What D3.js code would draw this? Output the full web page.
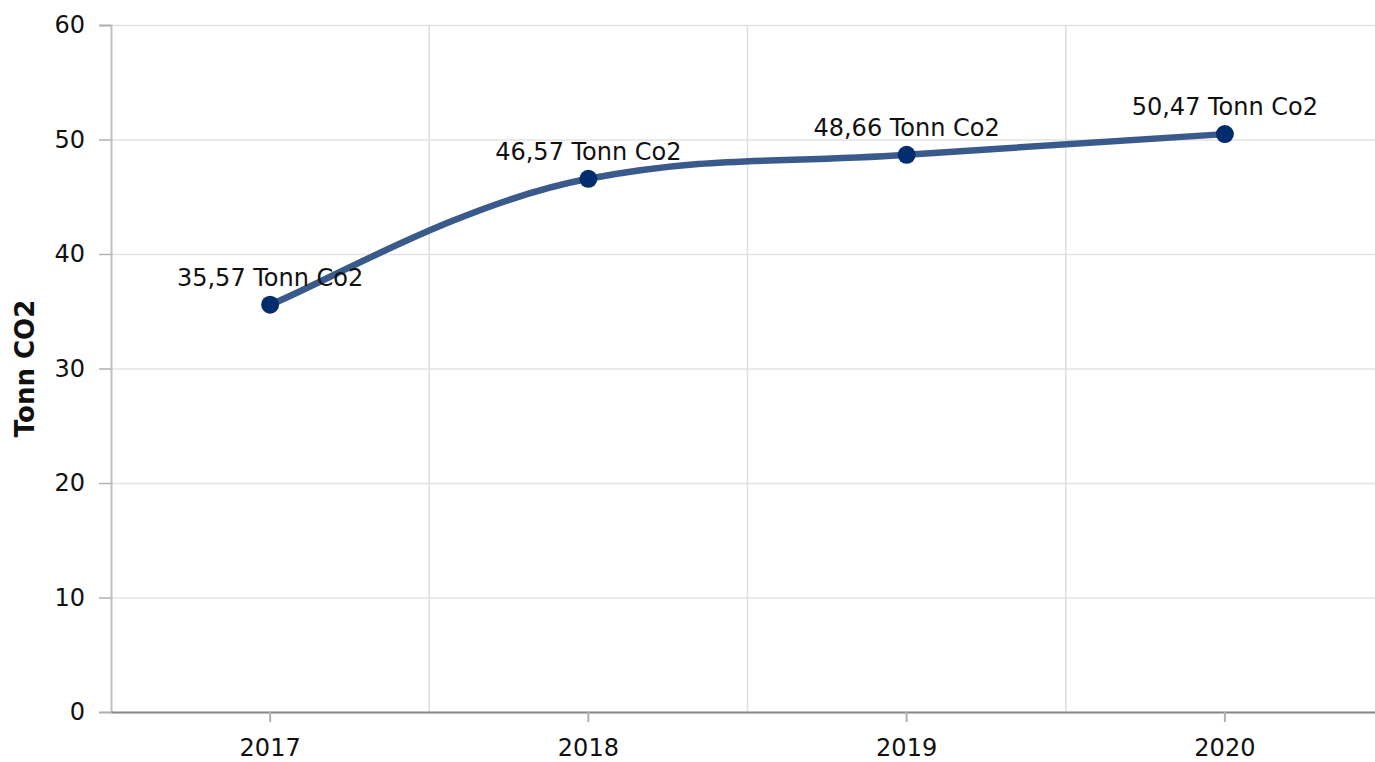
<!DOCTYPE html>
<html>
<head>
<meta charset="utf-8">
<script src="https://cdn.jsdelivr.net/npm/d3@7"></script>
<style>
  body { margin: 0; background: #fff; }
  text { font-family: "DejaVu Sans", Verdana, sans-serif; }
</style>
</head>
<body>
<div id="chart"></div>
<script>
const years = ["2017", "2018", "2019", "2020"];
const values = [35.57, 46.57, 48.66, 50.47];
const yTicks = [0, 10, 20, 30, 40, 50, 60];
const unit = "Tonn Co2";

const width = 1375, height = 762;
const margin = { top: 25, right: -9, bottom: 50, left: 111 };
const fontSize = 24;

const svg = d3.select("#chart").append("svg")
  .attr("width", width)
  .attr("height", height);

const x = d3.scaleBand()
  .domain(years)
  .range([margin.left, width - margin.right]);

const y = d3.scaleLinear()
  .domain([0, 60])
  .range([height - margin.bottom, margin.top]);

// smooth spline: inner points get weighted control points (smoothing 1.5),
// end points aim along the first / last segment
function SplineCurve(context) { this._context = context; }
SplineCurve.prototype = {
  areaStart() {}, areaEnd() {},
  lineStart() { this._pts = []; },
  point(px, py) { this._pts.push([+px, +py]); },
  lineEnd() {
    const p = this._pts, ctx = this._context, n = p.length;
    const right = [];
    const left = [];
    for (let i = 0; i < n; i++) {
      if (i === 0 || i === n - 1) continue;
      const [lx, ly] = p[i - 1], [cx, cy] = p[i], [nx, ny] = p[i + 1];
      let lcx = (1.5 * cx + lx) / 2.5, lcy = (1.5 * cy + ly) / 2.5;
      let rcx = (1.5 * cx + nx) / 2.5, rcy = (1.5 * cy + ny) / 2.5;
      let corr = 0;
      if (rcx !== lcx) corr = ((rcy - lcy) * (rcx - cx)) / (rcx - lcx) + cy - rcy;
      lcy += corr; rcy += corr;
      if (lcy > ly && lcy > cy) { lcy = Math.max(ly, cy); rcy = 2 * cy - lcy; }
      else if (lcy < ly && lcy < cy) { lcy = Math.min(ly, cy); rcy = 2 * cy - lcy; }
      if (rcy > ny && rcy > cy) { rcy = Math.max(ny, cy); lcy = 2 * cy - rcy; }
      else if (rcy < ny && rcy < cy) { rcy = Math.min(ny, cy); lcy = 2 * cy - rcy; }
      left[i] = [lcx, lcy]; right[i] = [rcx, rcy];
    }
    if (n > 1) {
      right[0] = [p[0][0] + (p[1][0] - p[0][0]) / 6, p[0][1] + (p[1][1] - p[0][1]) / 6];
      left[n - 1] = [p[n - 1][0] - (p[n - 1][0] - p[n - 2][0]) / 6, p[n - 1][1] - (p[n - 1][1] - p[n - 2][1]) / 6];
    }
    ctx.moveTo(p[0][0], p[0][1]);
    for (let i = 1; i < n; i++) {
      ctx.bezierCurveTo(right[i - 1][0], right[i - 1][1], left[i][0], left[i][1], p[i][0], p[i][1]);
    }
  }
};
const curveSpline = ctx => new SplineCurve(ctx);

// horizontal grid
svg.append("g")
  .selectAll("line")
  .data(yTicks)
  .enter()
  .append("line")
  .attr("x1", margin.left)
  .attr("x2", width)
  .attr("y1", d => y(d) + 0.5)
  .attr("y2", d => y(d) + 0.5)
  .attr("stroke", "#e3e3e3")
  .attr("stroke-width", 1.5);

// vertical grid at band boundaries
svg.append("g")
  .selectAll("line")
  .data(years.slice(1))
  .enter()
  .append("line")
  .attr("x1", d => x(d))
  .attr("x2", d => x(d))
  .attr("y1", margin.top)
  .attr("y2", y(0))
  .attr("stroke", "#dedede")
  .attr("stroke-width", 1.5);

// y axis
const yAxis = svg.append("g")
  .attr("transform", `translate(${margin.left},0)`)
  .call(d3.axisLeft(y).tickValues(yTicks).tickSize(12).tickPadding(14));
yAxis.select(".domain").attr("stroke", "#c0c0c0").attr("stroke-width", 2);
yAxis.selectAll(".tick line").attr("stroke", "#b0b0b0").attr("stroke-width", 1.5);
yAxis.selectAll(".tick text")
  .attr("font-size", fontSize)
  .attr("fill", "#111")
  .style("font-family", "'DejaVu Sans', Verdana, sans-serif");

// x axis
const xAxis = svg.append("g")
  .attr("transform", `translate(0,${y(0)})`)
  .call(d3.axisBottom(x).tickSizeInner(10).tickSizeOuter(0).tickPadding(17));
xAxis.select(".domain").attr("stroke", "#888").attr("stroke-width", 2);
xAxis.selectAll(".tick line").attr("stroke", "#b0b0b0").attr("stroke-width", 2);
xAxis.selectAll(".tick text")
  .attr("font-size", fontSize)
  .attr("fill", "#111")
  .style("font-family", "'DejaVu Sans', Verdana, sans-serif");

// y axis title
svg.append("text")
  .attr("transform", `translate(34,${(y(0) + y(60)) / 2}) rotate(-90)`)
  .attr("text-anchor", "middle")
  .attr("font-size", 26)
  .attr("font-weight", "bold")
  .attr("fill", "#111")
  .text("Tonn CO2");

const pts = years.map((d, i) => ({ year: d, value: values[i] }));

const line = d3.line()
  .x(d => x(d.year) + x.bandwidth() / 2)
  .y(d => y(d.value))
  .curve(curveSpline);

svg.append("path")
  .datum(pts)
  .attr("d", line)
  .attr("fill", "none")
  .attr("stroke", "#3a5a8c")
  .attr("stroke-width", 6.5)
  .attr("stroke-linecap", "round");

svg.append("g")
  .selectAll("circle")
  .data(pts)
  .enter()
  .append("circle")
  .attr("cx", d => x(d.year) + x.bandwidth() / 2)
  .attr("cy", d => y(d.value))
  .attr("r", 9)
  .attr("fill", "#022d6d");

svg.append("g")
  .selectAll("text")
  .data(pts)
  .enter()
  .append("text")
  .attr("x", d => x(d.year) + x.bandwidth() / 2)
  .attr("y", d => y(d.value) - 19)
  .attr("text-anchor", "middle")
  .attr("font-size", fontSize)
  .attr("fill", "#111")
  .text(d => d.value.toFixed(2).replace(".", ",") + " " + unit);
</script>
</body>
</html>
